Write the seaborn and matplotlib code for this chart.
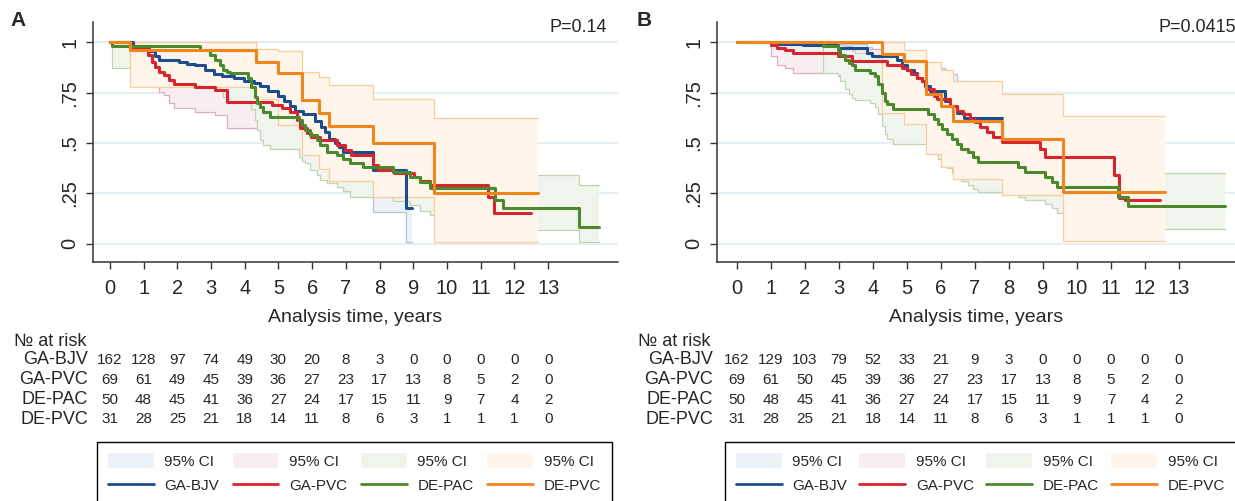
import matplotlib
matplotlib.use('Agg')
import matplotlib.pyplot as plt
import matplotlib.transforms as mtrans
from matplotlib.patches import Patch
from matplotlib.lines import Line2D
import seaborn as sns
import pandas as pd

# ---------------- data ----------------
groups = ['GA-BJV', 'GA-PVC', 'DE-PAC', 'DE-PVC']
years = list(range(14))

# panel A
a_bjv_t = [0, 0.7, 1.17, 1.35, 1.46, 2.05, 2.28, 2.52, 2.81, 3.1, 3.34, 3.69, 3.98, 4.27, 4.45,
           4.68, 4.98, 5.15, 5.33, 5.5, 5.74, 6.09, 6.26, 6.38, 6.5, 6.67, 6.79, 6.91, 7.79, 8.78]
a_bjv_s = [1.0, 0.98, 0.954, 0.93, 0.913, 0.90, 0.893, 0.885, 0.864, 0.843, 0.831, 0.82, 0.807, 0.80, 0.782,
           0.758, 0.733, 0.709, 0.684, 0.66, 0.643, 0.61, 0.58, 0.553, 0.52, 0.50, 0.48, 0.455, 0.366, 0.18]
a_bjv_lo = [1.0, 0.95, 0.92, 0.89, 0.87, 0.85, 0.84, 0.83, 0.81, 0.785, 0.77, 0.755, 0.74, 0.73, 0.71,
            0.68, 0.655, 0.63, 0.60, 0.575, 0.555, 0.52, 0.49, 0.46, 0.42, 0.40, 0.38, 0.35, 0.16, 0.01]
a_bjv_hi = [1.0, 0.995, 0.98, 0.96, 0.945, 0.935, 0.93, 0.925, 0.905, 0.885, 0.875, 0.865, 0.855, 0.85, 0.835,
            0.815, 0.79, 0.77, 0.75, 0.73, 0.71, 0.685, 0.66, 0.63, 0.60, 0.585, 0.565, 0.545, 0.48, 0.45]

a_pvc_t = [0, 0.64, 1.14, 1.25, 1.35, 1.45, 1.6, 1.75, 1.9, 2.52, 3.12, 3.46, 4.8, 5.1, 5.34, 5.54,
           5.64, 5.84, 5.98, 6.23, 6.73, 6.96, 7.14, 7.8, 7.95, 8.43, 9.02, 9.2, 9.48, 11.2, 11.4]
a_pvc_s = [1.0, 0.969, 0.935, 0.90, 0.878, 0.853, 0.837, 0.81, 0.795, 0.779, 0.762, 0.705, 0.688, 0.672, 0.655,
           0.614, 0.572, 0.548, 0.531, 0.515, 0.49, 0.465, 0.44, 0.39, 0.365, 0.349, 0.332, 0.31, 0.291, 0.234, 0.152]
a_pvc_lo = [1.0, 0.88, 0.84, 0.80, 0.78, 0.754, 0.74, 0.70, 0.672, 0.655, 0.64, 0.573, 0.55, 0.53, 0.51,
            0.47, 0.43, 0.41, 0.40, 0.38, 0.35, 0.33, 0.31, 0.26, 0.24, 0.223, 0.20, 0.18, 0.17, 0.12, 0.07]
a_pvc_hi = [1.0, 0.995, 0.98, 0.96, 0.945, 0.93, 0.92, 0.90, 0.89, 0.875, 0.86, 0.81, 0.795, 0.78, 0.765,
            0.73, 0.69, 0.67, 0.65, 0.64, 0.61, 0.59, 0.57, 0.52, 0.50, 0.48, 0.46, 0.44, 0.42, 0.37, 0.30]

a_pac_t = [0, 0.05, 2.67, 2.97, 3.12, 3.26, 3.36, 3.46, 3.56, 4.1, 4.2, 4.3, 4.35, 4.45, 4.55, 4.75, 5.6,
           5.7, 5.8, 5.93, 6.13, 6.23, 6.43, 6.73, 6.92, 7.12, 7.5, 8.4, 8.9, 9.2, 9.5, 11.42, 11.67, 13.9]
a_pac_s = [1.0, 0.98, 0.96, 0.935, 0.91, 0.886, 0.861, 0.85, 0.845, 0.82, 0.78, 0.73, 0.70, 0.68, 0.655, 0.63,
           0.614, 0.589, 0.564, 0.54, 0.515, 0.49, 0.457, 0.44, 0.42, 0.40, 0.383, 0.358, 0.333, 0.308, 0.275,
           0.218, 0.177, 0.086]
a_pac_lo = [1.0, 0.87, 0.85, 0.82, 0.79, 0.76, 0.73, 0.72, 0.71, 0.697, 0.67, 0.614, 0.564, 0.515, 0.49, 0.47,
            0.43, 0.41, 0.40, 0.365, 0.34, 0.316, 0.30, 0.283, 0.26, 0.234, 0.234, 0.21, 0.193, 0.165, 0.144,
            0.10, 0.07, 0.01]
a_pac_hi = [1.0, 1.0, 0.99, 0.98, 0.97, 0.96, 0.95, 0.94, 0.93, 0.91, 0.88, 0.84, 0.81, 0.79, 0.77, 0.75,
            0.73, 0.71, 0.69, 0.67, 0.65, 0.62, 0.60, 0.58, 0.56, 0.54, 0.52, 0.50, 0.48, 0.45, 0.42,
            0.37, 0.34, 0.29]

a_dpvc_t = [0, 0.6, 4.33, 5.0, 5.7, 6.2, 6.5, 7.8, 9.6]
a_dpvc_s = [1.0, 0.962, 0.90, 0.845, 0.714, 0.651, 0.584, 0.50, 0.25]
a_dpvc_lo = [1.0, 0.777, 0.72, 0.589, 0.44, 0.37, 0.311, 0.23, 0.01]
a_dpvc_hi = [1.0, 1.0, 0.964, 0.954, 0.853, 0.828, 0.788, 0.717, 0.622]

a_end = [8.96, 12.5, 14.5, 12.7]

# panel B
b_bjv_t = [0, 1.0, 1.95, 2.98, 3.81, 3.96, 4.7, 4.84, 5.0, 5.2, 5.3, 5.44, 5.53, 5.68, 6.13, 6.27, 6.48, 6.68]
b_bjv_s = [1.0, 0.99, 0.985, 0.97, 0.946, 0.93, 0.914, 0.889, 0.864, 0.848, 0.823, 0.807, 0.782, 0.758,
           0.709, 0.684, 0.651, 0.622]
b_bjv_lo = [1.0, 0.955, 0.95, 0.935, 0.905, 0.89, 0.87, 0.84, 0.815, 0.795, 0.77, 0.75, 0.72, 0.69,
            0.64, 0.61, 0.57, 0.53]
b_bjv_hi = [1.0, 1.0, 0.998, 0.99, 0.975, 0.965, 0.955, 0.95, 0.935, 0.925, 0.91, 0.90, 0.885, 0.872,
            0.86, 0.84, 0.807, 0.80]

b_pvc_t = [0, 1.0, 1.17, 1.41, 1.66, 2.98, 3.38, 4.4, 4.84, 5.0, 5.13, 5.28, 5.43, 5.55, 5.78,
           5.88, 6.27, 6.46, 6.66, 6.85, 7.0, 7.15, 7.34, 7.54, 7.79, 8.9, 9.05, 11.1, 11.25, 11.4]
b_pvc_s = [1.0, 0.987, 0.97, 0.963, 0.946, 0.93, 0.905, 0.889, 0.872, 0.86, 0.84, 0.823, 0.807, 0.766, 0.733,
           0.717, 0.684, 0.66, 0.643, 0.619, 0.602, 0.578, 0.553, 0.53, 0.504, 0.471, 0.43, 0.34, 0.226, 0.218]
b_pvc_lo = [1.0, 0.93, 0.889, 0.87, 0.848, 0.83, 0.80, 0.78, 0.76, 0.745, 0.725, 0.705, 0.69, 0.64, 0.615,
            0.60, 0.565, 0.54, 0.52, 0.50, 0.48, 0.46, 0.435, 0.41, 0.385, 0.35, 0.31, 0.22, 0.12, 0.11]
b_pvc_hi = [1.0, 1.0, 0.995, 0.99, 0.985, 0.98, 0.965, 0.955, 0.945, 0.935, 0.925, 0.915, 0.90, 0.86, 0.84,
            0.83, 0.80, 0.78, 0.765, 0.745, 0.73, 0.71, 0.69, 0.67, 0.645, 0.62, 0.58, 0.49, 0.37, 0.36]

b_pac_t = [0, 2.54, 2.98, 3.03, 3.18, 3.28, 3.38, 3.47, 3.91, 4.06, 4.16, 4.25, 4.35, 4.4, 4.6, 5.63, 5.78,
           5.92, 6.02, 6.17, 6.31, 6.46, 6.6, 6.8, 6.94, 7.09, 8.27, 8.47, 9.06, 9.26, 9.4, 11.22, 11.51]
b_pac_s = [1.0, 0.979, 0.963, 0.938, 0.914, 0.897, 0.889, 0.864, 0.848, 0.832, 0.791, 0.75, 0.709, 0.692, 0.668,
           0.643, 0.619, 0.594, 0.57, 0.545, 0.52, 0.496, 0.471, 0.455, 0.43, 0.405, 0.381, 0.357, 0.332, 0.308,
           0.283, 0.234, 0.19]
b_pac_lo = [1.0, 0.848, 0.835, 0.807, 0.766, 0.745, 0.725, 0.713, 0.70, 0.68, 0.643, 0.586, 0.545, 0.52, 0.496,
            0.47, 0.445, 0.42, 0.40, 0.375, 0.35, 0.33, 0.31, 0.29, 0.27, 0.255, 0.234, 0.218, 0.20, 0.176,
            0.151, 0.10, 0.074]
b_pac_hi = [1.0, 1.0, 0.995, 0.985, 0.975, 0.965, 0.955, 0.945, 0.935, 0.925, 0.90, 0.87, 0.84, 0.82, 0.80,
            0.78, 0.76, 0.74, 0.715, 0.69, 0.67, 0.645, 0.62, 0.60, 0.58, 0.56, 0.535, 0.51, 0.49, 0.465,
            0.44, 0.39, 0.349]

b_dpvc_t = [0, 4.25, 4.9, 5.55, 6.0, 6.35, 7.8, 9.6]
b_dpvc_s = [1.0, 0.94, 0.905, 0.742, 0.684, 0.61, 0.52, 0.259]
b_dpvc_lo = [1.0, 0.651, 0.594, 0.447, 0.38, 0.324, 0.242, 0.013]
b_dpvc_hi = [1.0, 1.0, 0.963, 0.90, 0.86, 0.807, 0.745, 0.635]

b_end = [7.8, 12.45, 14.35, 12.6]

# number at risk
a_risk_bjv = [162, 128, 97, 74, 49, 30, 20, 8, 3, 0, 0, 0, 0, 0]
a_risk_pvc = [69, 61, 49, 45, 39, 36, 27, 23, 17, 13, 8, 5, 2, 0]
a_risk_pac = [50, 48, 45, 41, 36, 27, 24, 17, 15, 11, 9, 7, 4, 2]
a_risk_dpvc = [31, 28, 25, 21, 18, 14, 11, 8, 6, 3, 1, 1, 1, 0]
b_risk_bjv = [162, 129, 103, 79, 52, 33, 21, 9, 3, 0, 0, 0, 0, 0]
b_risk_pvc = [69, 61, 50, 45, 39, 36, 27, 23, 17, 13, 8, 5, 2, 0]
b_risk_pac = [50, 48, 45, 41, 36, 27, 24, 17, 15, 11, 9, 7, 4, 2]
b_risk_dpvc = [31, 28, 25, 21, 18, 14, 11, 8, 6, 3, 1, 1, 1, 0]

p_values = ['P=0.14', 'P=0.0415']
y_ticks = [0, 0.25, 0.5, 0.75, 1]
y_ticklabels = ['0', '.25', '.5', '.75', '1']

# ---------------- style ----------------
line_colors = ['#1d4d8c', '#d7252f', '#4b8a2c', '#f0841d']
fill_colors = ['#edf2f8', '#f8eef1', '#eff4ed', '#fff5ea']
edge_colors = ['#b2c3da', '#dcb0ba', '#c0d4b6', '#f9cd9c']

sns.set_theme(style='white')
plt.rcParams['font.family'] = ['Liberation Sans', 'DejaVu Sans']

W, H = 1235, 501
fig = plt.figure(figsize=(W / 100, H / 100), dpi=100)


def fx(px):
    return px / W


def fy(py):
    return 1 - py / H


def draw_panel(rect, xlim, curves, ends, risks, letter, letter_x, pval, pval_x, label_x, legend_box):
    ax = fig.add_axes([fx(rect[0]), fy(262), fx(rect[1] - rect[0]), (262 - 22) / H])
    ax.set_xlim(*xlim)
    ax.set_ylim(-0.09, 1.1)

    for y in y_ticks:
        ax.axhline(y, color='#e5eff4', lw=1.6, zorder=0.5)

    # confidence bands, drawn in order so later ones cover earlier ones
    for i, (t, s, lo, hi) in enumerate(curves):
        x = t + [ends[i]]
        lo2 = lo + [lo[-1]]
        hi2 = hi + [hi[-1]]
        ax.fill_between(x, lo2, hi2, step='post', facecolor=fill_colors[i], edgecolor='none', zorder=1 + i)
        ax.plot(x, lo2, drawstyle='steps-post', color=edge_colors[i], lw=0.9, zorder=1.5 + i)
        ax.plot(x, hi2, drawstyle='steps-post', color=edge_colors[i], lw=0.9, zorder=1.5 + i)

    # survival curves
    for i, (t, s, lo, hi) in enumerate(curves):
        df = pd.DataFrame({'t': t + [ends[i]], 's': s + [s[-1]]})
        sns.lineplot(data=df, x='t', y='s', estimator=None, sort=False, drawstyle='steps-post',
                     color=line_colors[i], lw=2.2, ax=ax, zorder=10 + i)

    ax.set_xticks(years)
    ax.set_xticklabels([str(v) for v in years], fontsize=14.5)
    ax.set_yticks(y_ticks)
    ax.set_yticklabels(y_ticklabels, fontsize=14.5, rotation=90, va='center')
    ax.set_xlabel('')
    ax.set_ylabel('')
    ax.tick_params(axis='both', direction='out', length=5, width=1, color='#333333', left=True, bottom=True)
    ax.tick_params(axis='x', pad=7)
    ax.tick_params(axis='y', pad=5)
    for side in ['top', 'right']:
        ax.spines[side].set_visible(False)
    for side in ['left', 'bottom']:
        ax.spines[side].set_color('#333333')
        ax.spines[side].set_linewidth(1.1)

    fig.text(fx((rect[0] + rect[1]) / 2), fy(318), 'Analysis time, years', ha='center', va='center', fontsize=14)
    fig.text(fx(letter_x), fy(20), letter, fontsize=15, fontweight='bold', ha='left', va='center')
    fig.text(fx(pval_x), fy(27), pval, fontsize=13, ha='right', va='center')

    # number at risk table
    tr = mtrans.blended_transform_factory(ax.transData, fig.transFigure)
    fig.text(fx(label_x - 2), fy(341), '№ at risk', fontsize=13, ha='right', va='center')
    row_y = [360, 380, 400, 419]
    for g, name in enumerate(groups):
        fig.text(fx(label_x), fy(row_y[g]), name, fontsize=13, ha='right', va='center')
        for k, n in enumerate(risks[g]):
            ax.text(years[k], fy(row_y[g]), str(n), transform=tr, fontsize=11,
                    ha='center', va='center', clip_on=False)

    # legend
    handles = []
    for i, name in enumerate(groups):
        handles.append(Patch(facecolor=fill_colors[i], edgecolor='none', label='95% CI'))
        handles.append(Line2D([0], [0], color=line_colors[i], lw=2, label=name))
    fig.legend(handles=handles, ncol=4, loc='upper left', mode='expand',
               bbox_to_anchor=(fx(legend_box[0]), 0, fx(legend_box[1] - legend_box[0]), fy(442)),
               bbox_transform=fig.transFigure, borderaxespad=0, frameon=True, fancybox=False,
               edgecolor='black', framealpha=1, fontsize=11, handlelength=3.0, handleheight=1.2,
               handletextpad=0.7, columnspacing=1.0, labelspacing=0.55, borderpad=0.7)
    return ax


draw_panel((93, 618), (-0.5, 15.07),
           [(a_bjv_t, a_bjv_s, a_bjv_lo, a_bjv_hi), (a_pvc_t, a_pvc_s, a_pvc_lo, a_pvc_hi),
            (a_pac_t, a_pac_s, a_pac_lo, a_pac_hi), (a_dpvc_t, a_dpvc_s, a_dpvc_lo, a_dpvc_hi)],
           a_end, [a_risk_bjv, a_risk_pvc, a_risk_pac, a_risk_dpvc],
           'A', 10, p_values[0], 607, 88, (97, 612))

draw_panel((717, 1235), (-0.59, 14.65),
           [(b_bjv_t, b_bjv_s, b_bjv_lo, b_bjv_hi), (b_pvc_t, b_pvc_s, b_pvc_lo, b_pvc_hi),
            (b_pac_t, b_pac_s, b_pac_lo, b_pac_hi), (b_dpvc_t, b_dpvc_s, b_dpvc_lo, b_dpvc_hi)],
           b_end, [b_risk_bjv, b_risk_pvc, b_risk_pac, b_risk_dpvc],
           'B', 637, p_values[1], 1236, 713, (725, 1236))

fig.savefig('out.png', dpi=100, facecolor='white')
